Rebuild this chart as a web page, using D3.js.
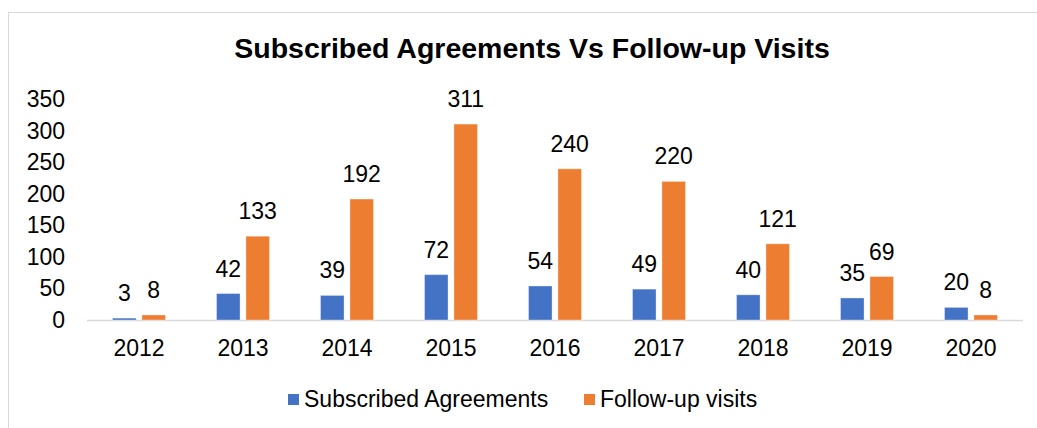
<!DOCTYPE html>
<html>
<head>
<meta charset="utf-8">
<script src="https://cdn.jsdelivr.net/npm/d3@7"></script>
<style>
  body { margin: 0; background: #fff; }
  text { font-family: "Liberation Sans", Arial, sans-serif; fill: #000; }
</style>
</head>
<body>
<script>
/* chart data */
var years = ["2012", "2013", "2014", "2015", "2016", "2017", "2018", "2019", "2020"];
var agreements = [3, 42, 39, 72, 54, 49, 40, 35, 20];
var visits = [8, 133, 192, 311, 240, 220, 121, 69, 8];
var yTicks = [0, 50, 100, 150, 200, 250, 300, 350];
var seriesNames = ["Subscribed Agreements", "Follow-up visits"];
var colorList = ["#4472C4", "#ED7D31"];

var width = 1037, height = 428;
var plot = {left: 87, right: 1023, top: 99.5, bottom: 320};
var fontSize = "23px";

var svg = d3.select("body").append("svg")
    .attr("width", width)
    .attr("height", height);

// outer frame of the chart area
svg.append("rect")
    .attr("x", 8.5).attr("y", 12.5)
    .attr("width", width + 10).attr("height", height + 10)
    .attr("fill", "none")
    .attr("stroke", "#d9d9d9")
    .attr("stroke-width", 1);

svg.append("text")
    .attr("x", 532).attr("y", 58)
    .attr("text-anchor", "middle")
    .style("font-size", "28.5px")
    .style("font-weight", "bold")
    .text("Subscribed Agreements Vs Follow-up Visits");

var xScale = d3.scaleBand()
    .domain(years)
    .range([plot.left, plot.right]);

// two bars per year, with a small gap between them
var inner = d3.scaleBand()
    .domain([0, 1])
    .range([xScale.bandwidth() / 2 - 26.5, xScale.bandwidth() / 2 + 26.5])
    .paddingInner(0.2);

var yScale = d3.scaleLinear()
    .domain([0, 350])
    .range([plot.bottom, plot.top]);

// y axis labels only (no line, no ticks)
var yAxis = svg.append("g")
    .attr("transform", "translate(" + plot.left + ",0)")
    .call(d3.axisLeft(yScale).tickValues(yTicks).tickSize(0).tickPadding(22));
yAxis.select(".domain").remove();
yAxis.selectAll("text")
    .style("font-size", fontSize)
    .style("font-family", "Liberation Sans, Arial, sans-serif");

// baseline
svg.append("line")
    .attr("x1", plot.left).attr("x2", plot.right)
    .attr("y1", plot.bottom + 0.5).attr("y2", plot.bottom + 0.5)
    .attr("stroke", "#d9d9d9")
    .attr("stroke-width", 1.5);

var xAxis = svg.append("g")
    .attr("transform", "translate(0," + plot.bottom + ")")
    .call(d3.axisBottom(xScale).tickSize(0).tickPadding(20));
xAxis.select(".domain").remove();
xAxis.selectAll("text")
    .style("font-size", fontSize)
    .style("font-family", "Liberation Sans, Arial, sans-serif");

var series = [agreements, visits];
series.forEach(function(values, s) {
    var g = svg.append("g");
    g.selectAll("rect")
        .data(values)
        .enter()
        .append("rect")
        .attr("x", function(d, i) { return xScale(years[i]) + inner(s); })
        .attr("y", function(d) { return yScale(d); })
        .attr("width", inner.bandwidth())
        .attr("height", function(d) { return yScale(0) - yScale(d); })
        .attr("fill", colorList[s])
        .attr("stroke", "#fff")
        .attr("stroke-opacity", 0.35)
        .attr("stroke-width", 1);

    g.selectAll("text")
        .data(values)
        .enter()
        .append("text")
        .attr("x", function(d, i) { return xScale(years[i]) + inner(s) + inner.bandwidth() / 2; })
        .attr("y", function(d) { return yScale(d) - 17; })
        .attr("text-anchor", "middle")
        .style("font-size", fontSize)
        .text(function(d) { return d; });
});

// legend
var legendX = [288, 584];
var legend = svg.selectAll(".legend")
    .data(seriesNames)
    .enter()
    .append("g")
    .attr("class", "legend")
    .attr("transform", function(d, i) { return "translate(" + legendX[i] + ",394)"; });

legend.append("rect")
    .attr("width", 11).attr("height", 11)
    .attr("fill", function(d, i) { return colorList[i]; });

legend.append("text")
    .attr("x", 16).attr("y", 12.5)
    .style("font-size", fontSize)
    .text(function(d) { return d; });
</script>
</body>
</html>
